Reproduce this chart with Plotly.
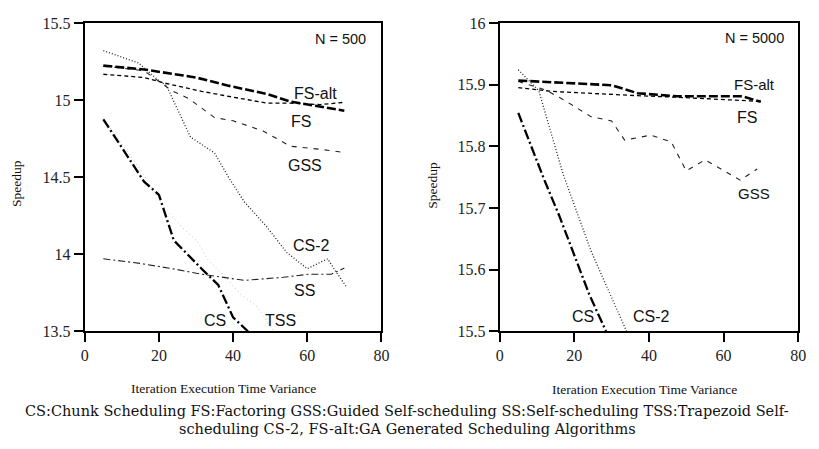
import plotly.graph_objects as go

# ---------------- Data: N = 500 (left) ----------------
L_fsalt_x = [5, 16, 30, 38.5, 49, 55.5, 70]
L_fsalt_y = [15.223, 15.198, 15.146, 15.094, 15.04, 14.99, 14.93]
L_fs_x = [5, 16, 21.5, 31.5, 42, 49, 55.5, 63.5, 70]
L_fs_y = [15.167, 15.146, 15.11, 15.056, 15.01, 14.98, 14.98, 14.97, 14.985]
L_gss_x = [5, 16, 23.5, 28, 35, 40, 48, 55.5, 63.5, 70]
L_gss_y = [15.22, 15.19, 15.06, 15.01, 14.886, 14.865, 14.80, 14.70, 14.68, 14.66]
L_cs2_x = [5, 14.5, 20, 22, 28.5, 35, 38.5, 43, 49, 54.5, 60, 65.5, 67.5, 70.5]
L_cs2_y = [15.32, 15.24, 15.125, 15.094, 14.76, 14.656, 14.51, 14.34, 14.18, 14.01, 13.906, 13.97, 13.896, 13.79]
L_cs_x = [5, 16, 20, 24, 31.5, 36, 40, 44]
L_cs_y = [14.875, 14.47, 14.385, 14.09, 13.906, 13.80, 13.59, 13.50]
L_tss_x = [5, 15, 21.5, 26, 30.5, 33, 38, 42, 46.5, 51]
L_tss_y = [14.88, 14.55, 14.30, 14.18, 14.08, 13.97, 13.85, 13.74, 13.66, 13.50]
L_ss_x = [5, 15, 25, 31.5, 43, 53.5, 60.5, 66.5, 70]
L_ss_y = [13.97, 13.94, 13.90, 13.87, 13.83, 13.85, 13.87, 13.87, 13.91]

# ---------------- Data: N = 5000 (right) ----------------
R_fsalt_x = [5, 18, 30, 37, 47.5, 65, 70]
R_fsalt_y = [15.9065, 15.903, 15.899, 15.886, 15.881, 15.881, 15.872]
R_fs_x = [5, 14, 37, 47.5, 69]
R_fs_y = [15.895, 15.889, 15.882, 15.8795, 15.873]
R_gss_x = [5, 12.5, 17.5, 24.5, 30, 33.5, 40.5, 46, 50, 55, 64.5, 69]
R_gss_y = [15.905, 15.891, 15.874, 15.848, 15.841, 15.81, 15.818, 15.807, 15.76, 15.778, 15.745, 15.763]
R_cs2_x = [5, 10.5, 17, 24.5, 34]
R_cs2_y = [15.924, 15.89, 15.755, 15.63, 15.50]
R_cs_x = [5, 12, 16, 19.5, 24, 28.5]
R_cs_y = [15.854, 15.745, 15.687, 15.63, 15.56, 15.50]

X_TICKS = [0, 20, 40, 60, 80]
L_Y_TICKS = [13.5, 14, 14.5, 15, 15.5]
L_Y_TEXT = ["13.5", "14", "14.5", "15", "15.5"]
R_Y_TICKS = [15.5, 15.6, 15.7, 15.8, 15.9, 16]
R_Y_TEXT = ["15.5", "15.6", "15.7", "15.8", "15.9", "16"]

STY = {
    "fsalt": dict(color="black", width=2.6, dash="9px,3px"),
    "fs": dict(color="black", width=1.3, dash="4px,3px"),
    "gss": dict(color="#222", width=1.1, dash="5px,6px"),
    "cs2": dict(color="#222", width=1.3, dash="1px,2px"),
    "cs": dict(color="black", width=2.3, dash="10px,3px,2px,3px"),
    "ss": dict(color="#222", width=1.1, dash="7px,3px,2px,3px"),
    "tss": dict(color="#c4c4c4", width=1.0, dash="1px,3px"),
}

fig = go.Figure()

def add(x, y, key, xa, ya):
    fig.add_trace(go.Scatter(x=x, y=y, mode="lines", line=STY[key],
                             xaxis=xa, yaxis=ya, showlegend=False, hoverinfo="skip"))

add(L_tss_x, L_tss_y, "tss", "x", "y")
add(L_ss_x, L_ss_y, "ss", "x", "y")
add(L_gss_x, L_gss_y, "gss", "x", "y")
add(L_fs_x, L_fs_y, "fs", "x", "y")
add(L_fsalt_x, L_fsalt_y, "fsalt", "x", "y")
add(L_cs2_x, L_cs2_y, "cs2", "x", "y")
add(L_cs_x, L_cs_y, "cs", "x", "y")

add(R_gss_x, R_gss_y, "gss", "x2", "y2")
add(R_fs_x, R_fs_y, "fs", "x2", "y2")
add(R_fsalt_x, R_fsalt_y, "fsalt", "x2", "y2")
add(R_cs2_x, R_cs2_y, "cs2", "x2", "y2")
add(R_cs_x, R_cs_y, "cs", "x2", "y2")

W, H = 819, 449
serif = "Liberation Serif"
wide_serif = "DejaVu Serif"
sans = "Liberation Sans"

axis_common = dict(showline=True, linewidth=2, linecolor="black", mirror=True,
                   ticks="outside", ticklen=9, tickwidth=1.5, tickcolor="black",
                   showgrid=False, zeroline=False,
                   tickfont=dict(family=serif, size=16, color="#222"))

y0, y1 = 1 - 336 / H, 1 - 15.5 / H
fig.update_layout(
    width=W, height=H, margin=dict(l=0, r=0, t=0, b=0),
    paper_bgcolor="white", plot_bgcolor="white",
    xaxis=dict(domain=[82 / W, 383 / W], range=[0, 80], tickvals=X_TICKS, anchor="y", **axis_common),
    yaxis=dict(domain=[y0, y1], range=[13.5, 15.5], tickvals=L_Y_TICKS, ticktext=L_Y_TEXT, anchor="x", **axis_common),
    xaxis2=dict(domain=[503 / W, 806 / W], range=[0, 80], tickvals=X_TICKS, anchor="y2", **axis_common),
    yaxis2=dict(domain=[y0, y1], range=[15.5, 16], tickvals=R_Y_TICKS, ticktext=R_Y_TEXT, anchor="x2", **axis_common),
)

def lab(text, x, y, xref, yref, size=15, family=sans, **kw):
    fig.add_annotation(text=text, x=x, y=y, xref=xref, yref=yref, showarrow=False,
                       xanchor="center", yanchor="middle",
                       font=dict(family=family, size=size, color="#111"), **kw)

# left labels
lab("N = 500", 69.1, 15.394, "x", "y", size=14.5)
lab("FS-alt", 62.2, 15.044, "x", "y", size=16)
lab("FS", 58.2, 14.86, "x", "y", size=16)
lab("GSS", 59.5, 14.575, "x", "y", size=16)
lab("CS-2", 61.2, 14.056, "x", "y", size=16)
lab("SS", 59.3, 13.764, "x", "y", size=16)
lab("CS", 35.1, 13.569, "x", "y", size=16)
lab("TSS", 52.7, 13.569, "x", "y", size=16)

# right labels
lab("N = 5000", 68.3, 15.975, "x2", "y2", size=14.5)
lab("FS-alt", 68.3, 15.9003, "x2", "y2", size=15)
lab("FS", 66.2, 15.846, "x2", "y2", size=16)
lab("GSS", 68.1, 15.724, "x2", "y2", size=15)
lab("CS", 22.4, 15.524, "x2", "y2", size=16)
lab("CS-2", 40.6, 15.524, "x2", "y2", size=16)

# axis titles
lab("Speedup", 12 / W, 1 - 182 / H, "paper", "paper", size=13.5, family=serif, textangle=-90)
lab("Speedup", 434 / W, 1 - 184 / H, "paper", "paper", size=13.5, family=serif, textangle=-90)
lab("Iteration Execution Time Variance", 223 / W, 1 - 395 / H, "paper", "paper", size=13.5, family=serif)
lab("Iteration Execution Time Variance", 650 / W, 1 - 397 / H, "paper", "paper", size=13.5, family=serif)

# caption
lab("CS:Chunk Scheduling FS:Factoring GSS:Guided Self-scheduling SS:Self-scheduling TSS:Trapezoid Self-",
    409 / W, 1 - 419 / H, "paper", "paper", size=14.5, family=wide_serif)
lab("scheduling CS-2, FS-aIt:GA Generated Scheduling Algorithms",
    409 / W, 1 - 437.5 / H, "paper", "paper", size=14.5, family=wide_serif)

fig.write_html("out.html")
